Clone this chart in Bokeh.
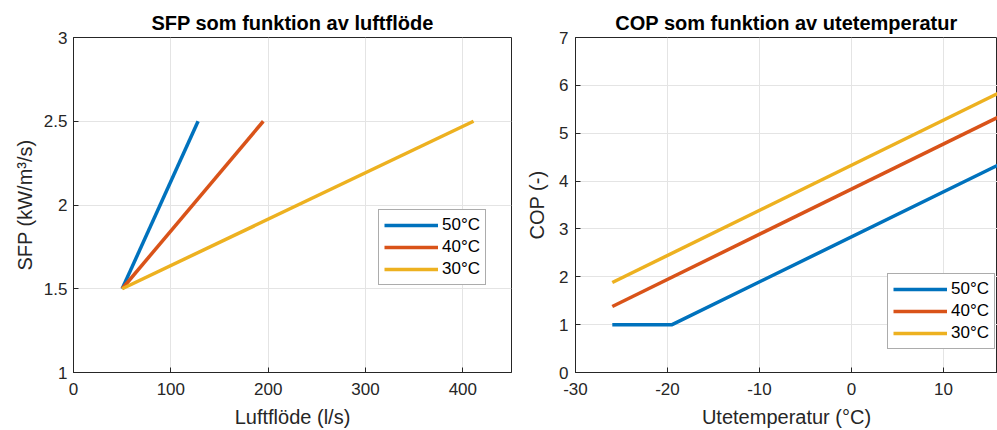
from bokeh.plotting import figure
from bokeh.layouts import row
from bokeh.models import Legend, LegendItem, FixedTicker, Range1d, NumeralTickFormatter
from bokeh.embed import file_html
from bokeh.resources import INLINE

# ---- data: left chart (SFP vs air flow) ----
flow_50 = [50, 128]
sfp_50 = [1.5, 2.5]
flow_40 = [50, 195]
sfp_40 = [1.5, 2.5]
flow_30 = [50, 411]
sfp_30 = [1.5, 2.5]

# ---- data: right chart (COP vs outdoor temperature) ----
temp_50 = [-26, -19.5, 16]
cop_50 = [1.0, 1.0, 4.34]
temp_40 = [-26, 16]
cop_40 = [1.38, 5.34]
temp_30 = [-26, 16]
cop_30 = [1.88, 5.84]

series_labels = ["50°C", "40°C", "30°C"]
left_xticks = [0, 100, 200, 300, 400]
left_yticks = [1, 1.5, 2, 2.5, 3]
right_xticks = [-30, -20, -10, 0, 10]
right_yticks = [0, 1, 2, 3, 4, 5, 6, 7]

COLORS = ["#0072BD", "#D95319", "#EDB120"]
FONT = "Liberation Sans"
AX = "#262626"
GRID = "#e4e4e4"
LW = 3.5


def style_axis(ax, ticks):
    ax.ticker = FixedTicker(ticks=ticks)
    ax.axis_line_color = AX
    ax.axis_line_width = 1
    ax.major_tick_in = 5
    ax.major_tick_out = 0
    ax.minor_tick_line_color = None
    ax.major_tick_line_color = AX
    ax.major_label_text_color = AX
    ax.major_label_text_font = FONT
    ax.major_label_text_font_size = "17px"
    ax.axis_label_text_font = FONT
    ax.axis_label_text_font_style = "normal"
    ax.axis_label_text_color = AX
    ax.axis_label_text_font_size = "20px"
    ax.formatter = NumeralTickFormatter(format="0.[0]")


def make_fig(width, height, xr, yr, title, mbl, mbr, mbt, mbb):
    p = figure(width=width, height=height, x_range=xr, y_range=yr,
               output_backend="svg", toolbar_location=None,
               min_border_left=mbl, min_border_right=mbr,
               min_border_top=mbt, min_border_bottom=mbb)
    p.title.text = title
    p.title.text_font = FONT
    p.title.text_font_size = "20px"
    p.title.text_font_style = "bold"
    p.title.text_color = "#000000"
    p.title.align = "center"
    p.title.standoff = 7
    p.outline_line_color = AX
    p.outline_line_width = 1
    p.background_fill_color = "white"
    p.border_fill_color = "white"
    p.xgrid.grid_line_color = GRID
    p.ygrid.grid_line_color = GRID
    return p


# ---------------- left figure ----------------
p1 = make_fig(520, 430, Range1d(0, 450), Range1d(1, 3),
              "SFP som funktion av luftflöde", 73, 9, 35, 58)
p1.xaxis.axis_label = "Luftflöde (l/s)"
p1.yaxis.axis_label = "SFP (kW/m³/s)"
style_axis(p1.xaxis[0], left_xticks)
style_axis(p1.yaxis[0], left_yticks)
p1.xaxis.major_label_standoff = 10
p1.yaxis.major_label_standoff = 6
p1.xaxis.axis_label_standoff = 8
p1.yaxis.axis_label_standoff = 5
p1.xgrid.ticker = FixedTicker(ticks=left_xticks)
p1.ygrid.ticker = FixedTicker(ticks=left_yticks)

r1 = []
for xs, ys, c in zip([flow_50, flow_40, flow_30], [sfp_50, sfp_40, sfp_30], COLORS):
    r1.append(p1.line(xs, ys, line_color=c, line_width=LW))

# ---------------- right figure ----------------
p2 = make_fig(477, 430, Range1d(-30, 15.87), Range1d(0, 7),
              "COP som funktion av utetemperatur", 55, 0, 37, 54)
p2.title.offset = 10
p2.xaxis.axis_label = "Utetemperatur (°C)"
p2.yaxis.axis_label = "COP (-)"
style_axis(p2.xaxis[0], right_xticks)
style_axis(p2.yaxis[0], right_yticks)
p2.xaxis.major_label_standoff = 10
p2.yaxis.major_label_standoff = 7
p2.xaxis.axis_label_standoff = 8
p2.yaxis.axis_label_standoff = 8
p2.xgrid.ticker = FixedTicker(ticks=right_xticks)
p2.ygrid.ticker = FixedTicker(ticks=right_yticks)

r2 = []
for xs, ys, c in zip([temp_50, temp_40, temp_30], [cop_50, cop_40, cop_30], COLORS):
    r2.append(p2.line(xs, ys, line_color=c, line_width=LW))


def add_legend(p, renderers, loc):
    items = [LegendItem(label=lab, renderers=[r]) for lab, r in zip(series_labels, renderers)]
    lg = Legend(items=items, location=loc)
    lg.label_text_font = FONT
    lg.label_text_font_size = "17px"
    lg.label_text_color = "#000000"
    lg.glyph_width = 54
    lg.glyph_height = 20
    lg.label_height = 20
    lg.label_standoff = 4
    lg.spacing = 2
    lg.padding = 5
    lg.margin = 0
    lg.border_line_color = "#5a5a5a"
    lg.border_line_width = 1
    lg.background_fill_color = "white"
    lg.background_fill_alpha = 1
    p.add_layout(lg, "center")


add_legend(p1, r1, (305, 87))
add_legend(p2, r2, (312, 23))

layout = row(p1, p2)
open("out.html", "w").write(file_html(layout, INLINE))
